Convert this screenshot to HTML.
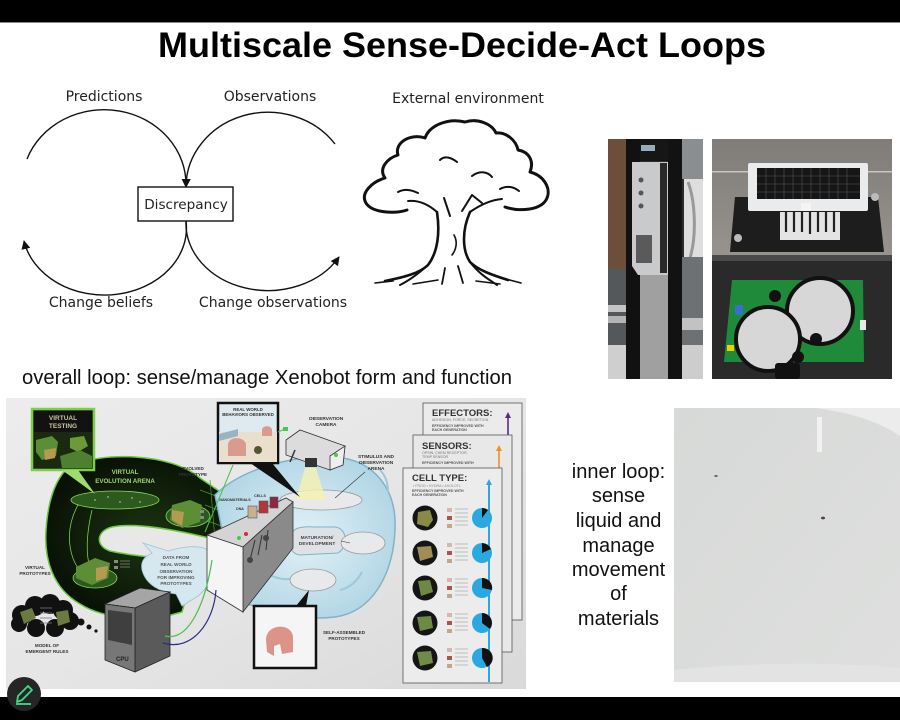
<!DOCTYPE html>
<html><head><meta charset="utf-8"><style>
html,body{margin:0;padding:0;background:#fff;}
body{width:900px;height:720px;overflow:hidden;}
svg{display:block;}
</style></head><body>
<svg width="900" height="720" viewBox="0 0 900 720" xmlns="http://www.w3.org/2000/svg">
<defs>
<marker id="ah" viewBox="0 0 10 10" refX="9" refY="5" markerWidth="9" markerHeight="9" markerUnits="userSpaceOnUse" orient="auto"><path d="M0,0 L10,5 L0,10 Z" fill="#111"/></marker>
<linearGradient id="ibg" x1="0" y1="0" x2="1" y2="1"><stop offset="0" stop-color="#ececec"/><stop offset="0.5" stop-color="#e6e6e6"/><stop offset="1" stop-color="#d9d9d9"/></linearGradient>
<radialGradient id="dark" cx="0.5" cy="0.5" r="0.6"><stop offset="0" stop-color="#1b3410"/><stop offset="1" stop-color="#060c04"/></radialGradient>
<radialGradient id="blue" cx="0.5" cy="0.5" r="0.6"><stop offset="0" stop-color="#e2f1f7"/><stop offset="1" stop-color="#acd3e3"/></radialGradient>
<linearGradient id="rtop" x1="0" y1="0" x2="0" y2="1"><stop offset="0" stop-color="#7f7c79"/><stop offset="1" stop-color="#b0aaa2"/></linearGradient>
<linearGradient id="liq" x1="0" y1="0" x2="1" y2="1"><stop offset="0" stop-color="#d7d9d8"/><stop offset="1" stop-color="#dedfde"/></linearGradient>
</defs>

<!-- bars -->
<rect x="0" y="0" width="900" height="22" fill="#000"/>
<rect x="0" y="22" width="900" height="1" fill="#888"/>
<rect x="0" y="697" width="900" height="23" fill="#000"/>

<!-- title -->
<text x="462" y="57" text-anchor="middle" font-family="Liberation Sans, Arial, sans-serif" font-weight="bold" font-size="35" textLength="608" lengthAdjust="spacingAndGlyphs" fill="#000">Multiscale Sense-Decide-Act Loops</text>

<!-- loop diagram -->
<g font-family="DejaVu Sans, Verdana, sans-serif" font-size="14" fill="#222">
<text x="104" y="101" text-anchor="middle">Predictions</text>
<text x="270" y="101" text-anchor="middle">Observations</text>
<text x="468" y="103" text-anchor="middle">External environment</text>
<text x="101" y="307" text-anchor="middle">Change beliefs</text>
<text x="273" y="307" text-anchor="middle">Change observations</text>
</g>
<g fill="none" stroke="#111" stroke-width="1.4">
<path d="M27,159 A82,75 0 0 1 186,187" marker-end="url(#ah)"/>
<path d="M335,144 A82,75 0 0 0 186,187" marker-end="url(#ah)"/>
<path d="M186,221 A82,67 0 0 1 24,241" marker-end="url(#ah)"/>
<path d="M186,221 A82,67 0 0 0 339,257" marker-end="url(#ah)"/>
</g>
<rect x="138" y="187" width="95" height="34" fill="#fff" stroke="#111" stroke-width="1.4"/>
<text x="186" y="209" text-anchor="middle" font-family="DejaVu Sans, Verdana, sans-serif" font-size="13.6" fill="#222">Discrepancy</text>

<!-- tree -->
<g fill="none" stroke="#111" stroke-width="3" stroke-linecap="round" stroke-linejoin="round">
<path d="M407,210 C395,214 372,213 366,203 C360,193 372,182 385,178 C378,168 388,158 398,155 C394,143 410,133 425,138 C430,124 450,118 465,122 C478,118 492,124 496,133 C506,132 516,140 518,150 C530,152 534,162 530,172 C545,176 552,190 546,200 C540,210 520,212 505,207"/>
<path d="M437,212 C440,232 438,252 428,265 C420,273 405,277 385,281" stroke-width="2.6"/>
<path d="M470,212 C462,230 462,250 470,262 C478,270 492,275 508,280" stroke-width="2.6"/>
<path d="M437,212 C428,204 418,200 408,201" stroke-width="2"/>
<path d="M470,212 C480,205 490,200 502,199" stroke-width="2"/>
<path d="M450,216 L444,198" stroke-width="2"/>
<path d="M462,211 L472,195 L482,203" stroke-width="2"/>
<path d="M440,160 C445,155 452,158 457,162" stroke-width="2"/>
<path d="M472,176 C480,170 488,172 492,177" stroke-width="2"/>
<path d="M398,192 C405,188 412,190 418,193" stroke-width="2"/>
<path d="M500,189 C507,185 514,187 519,191" stroke-width="2"/>
<path d="M428,265 C418,274 410,280 400,285" stroke-width="2"/>
<path d="M470,262 C480,275 490,280 497,285" stroke-width="2"/>
<path d="M445,268 L442,284" stroke-width="1.8"/>
<path d="M458,266 L463,283" stroke-width="1.8"/>
<path d="M454,235 C458,242 456,250 452,255" stroke-width="1.6"/>
<path d="M375,283 L393,281 M413,284 L438,280 M476,281 L500,284 M506,279 L521,283" stroke-width="1.6"/>
</g>

<!-- left photo -->
<g>
<rect x="608" y="139" width="95" height="240" fill="#2e2b28"/>
<rect x="608" y="139" width="18" height="130" fill="#6c4e3a"/>
<rect x="608" y="269" width="18" height="110" fill="#55585a"/>
<rect x="608" y="305" width="30" height="7" fill="#c4c4c4"/>
<rect x="608" y="316" width="30" height="7" fill="#b4b4b4"/>
<rect x="608" y="345" width="22" height="34" fill="#cfcfcf"/>
<rect x="626" y="139" width="14" height="240" fill="#111"/>
<rect x="640" y="139" width="50" height="22" fill="#161616"/>
<rect x="641" y="145" width="14" height="6" fill="#9ab"/>
<path d="M632,162 L682,162 L682,266 L674,275 L638,275 L632,266 Z" fill="#c8cacb"/>
<rect x="660" y="163" width="7" height="110" fill="#2a2a2a"/>
<rect x="636" y="235" width="16" height="28" fill="#5a5a5a"/>
<circle cx="641" cy="180" r="2.5" fill="#555"/><circle cx="641" cy="193" r="2.5" fill="#555"/><circle cx="641" cy="206" r="2.5" fill="#555"/>
<rect x="640" y="275" width="28" height="104" fill="#a0a0a0"/>
<rect x="668" y="139" width="14" height="240" fill="#121212"/>
<rect x="682" y="139" width="21" height="40" fill="#8a8e90"/>
<rect x="684" y="179" width="19" height="78" fill="#dedede"/>
<path d="M688,182 C695,200 697,235 690,258" stroke="#999" stroke-width="3" fill="none"/>
<rect x="682" y="257" width="21" height="122" fill="#6e7174"/>
<rect x="682" y="318" width="21" height="12" fill="#c2c2c2"/>
<rect x="682" y="345" width="21" height="34" fill="#cdcdcd"/>
</g>

<!-- right photo -->
<g>
<rect x="712" y="139" width="180" height="240" fill="url(#rtop)"/>
<rect x="712" y="171" width="180" height="1.5" fill="#c9c4bc"/>
<path d="M735,197 L878,197 L884,252 L730,252 Z" fill="#1d1d1d"/>
<rect x="780" y="212" width="60" height="28" fill="#e4e4e4"/>
<g stroke="#222" stroke-width="2.2">
<line x1="786" y1="212" x2="786" y2="232"/><line x1="794" y1="212" x2="794" y2="232"/><line x1="802" y1="212" x2="802" y2="232"/><line x1="810" y1="212" x2="810" y2="234"/><line x1="818" y1="212" x2="818" y2="232"/><line x1="826" y1="212" x2="826" y2="232"/><line x1="834" y1="212" x2="834" y2="232"/>
</g>
<rect x="748" y="163" width="120" height="48" rx="2" fill="#e9ebec"/>
<rect x="757" y="168" width="103" height="31" fill="#161616"/>
<g stroke="#555" stroke-width="0.6">
<line x1="757" y1="176" x2="860" y2="176"/><line x1="757" y1="184" x2="860" y2="184"/><line x1="757" y1="192" x2="860" y2="192"/>
<line x1="766" y1="168" x2="766" y2="199"/><line x1="775" y1="168" x2="775" y2="199"/><line x1="784" y1="168" x2="784" y2="199"/><line x1="793" y1="168" x2="793" y2="199"/><line x1="802" y1="168" x2="802" y2="199"/><line x1="811" y1="168" x2="811" y2="199"/><line x1="820" y1="168" x2="820" y2="199"/><line x1="829" y1="168" x2="829" y2="199"/><line x1="838" y1="168" x2="838" y2="199"/><line x1="847" y1="168" x2="847" y2="199"/>
</g>
<rect x="801" y="203" width="10" height="8" fill="#f4f4f4"/>
<circle cx="875" cy="197" r="4" fill="#bbb"/><circle cx="738" cy="238" r="4" fill="#bbb"/>
<rect x="712" y="255" width="180" height="124" fill="#2a2a2a"/>
<rect x="712" y="255" width="180" height="6" fill="#4a4a4a"/>
<path d="M732,280 L863,280 L864,362 L724,362 Z" fill="#1f8a3a"/>
<circle cx="820" cy="311" r="33" fill="#d6d7d6" stroke="#111" stroke-width="4"/>
<circle cx="768" cy="339" r="32" fill="#d6d7d6" stroke="#111" stroke-width="4"/>
<circle cx="775" cy="296" r="6" fill="#111"/><circle cx="816" cy="339" r="6" fill="#111"/><circle cx="798" cy="357" r="6" fill="#111"/>
<rect x="735" y="305" width="8" height="10" fill="#3a6fd0"/>
<rect x="860" y="320" width="6" height="10" fill="#e8e8e8"/>
<rect x="727" y="345" width="7" height="6" fill="#f0d000"/>
<rect x="775" y="363" width="25" height="16" rx="3" fill="#111"/>
</g>

<!-- overall loop text -->
<text x="22" y="384" font-family="Liberation Sans, Arial, sans-serif" font-size="20" textLength="490" lengthAdjust="spacingAndGlyphs" fill="#111">overall loop: sense/manage Xenobot form and function</text>

<!-- infographic -->
<g font-family="Liberation Sans, Arial, sans-serif" font-weight="bold">
<rect x="6" y="398" width="520" height="291" fill="url(#ibg)"/>

<!-- dark arena -->
<path d="M70,466 C100,452 170,452 200,478 L250,512 L246,548 L205,537 C175,530 135,522 112,527 C96,531 95,546 110,551 C140,558 172,556 195,568 L182,612 C150,622 105,620 80,604 C52,588 44,558 46,530 C48,500 55,478 70,466 Z" fill="url(#dark)" stroke="#6cc83c" stroke-width="1.5"/>
<g stroke="#4a9a2a" stroke-width="0.7">
<line x1="200" y1="490" x2="240" y2="505"/><line x1="205" y1="505" x2="245" y2="520"/><line x1="205" y1="520" x2="246" y2="535"/><line x1="210" y1="480" x2="215" y2="540"/><line x1="225" y1="490" x2="230" y2="544"/>
</g>
<path d="M78,505 C64,530 68,560 84,575" stroke="#7ad04a" stroke-width="0.8" fill="none"/>
<path d="M92,510 C86,535 86,555 90,568" stroke="#7ad04a" stroke-width="0.8" fill="none"/>
<text x="125" y="474" text-anchor="middle" font-size="6.2" fill="#9fd77a">VIRTUAL</text>
<text x="125" y="483" text-anchor="middle" font-size="6.2" fill="#9fd77a">EVOLUTION ARENA</text>
<ellipse cx="115" cy="500" rx="44" ry="9" fill="#2c5a1c" stroke="#8ad85a" stroke-width="0.8"/>
<g fill="#cde" ><circle cx="95" cy="500" r="0.7"/><circle cx="108" cy="497" r="0.7"/><circle cx="120" cy="502" r="0.7"/><circle cx="132" cy="498" r="0.7"/><circle cx="140" cy="502" r="0.7"/></g>
<ellipse cx="188" cy="516" rx="22" ry="11" fill="#2c5a1c" stroke="#8ad85a" stroke-width="0.8"/>
<path d="M172,505 L190,500 L202,505 L200,522 L182,528 L170,520 Z" fill="#5c8f35"/>
<path d="M172,510 L184,512 L182,526 L172,520 Z" fill="#b59a52"/>
<ellipse cx="95" cy="578" rx="22" ry="10" fill="#2c5a1c" stroke="#8ad85a" stroke-width="0.8"/>
<path d="M76,567 L95,558 L110,563 L108,578 L92,585 L76,578 Z" fill="#5c8f35"/>
<path d="M96,568 L108,566 L106,578 L96,581 Z" fill="#b59a52"/>
<g fill="#888"><rect x="114" y="560" width="4" height="3"/><rect x="114" y="566" width="4" height="3"/><rect x="200" y="510" width="4" height="3"/><rect x="200" y="516" width="4" height="3"/></g>
<g stroke="#aaa" stroke-width="0.6"><line x1="120" y1="561" x2="130" y2="561"/><line x1="120" y1="564" x2="130" y2="564"/><line x1="120" y1="567" x2="130" y2="567"/></g>

<!-- virtual testing box -->
<rect x="32" y="409" width="62" height="61" fill="#1a2a10" stroke="#7ccf4a" stroke-width="2.5"/>
<rect x="34" y="411" width="58" height="21" fill="#121212"/>
<text x="63" y="420" text-anchor="middle" font-size="6.5" fill="#c9c3a0">VIRTUAL</text>
<text x="63" y="428" text-anchor="middle" font-size="6.5" fill="#c9c3a0">TESTING</text>
<path d="M36,440 L52,436 L58,442 L56,456 L42,460 L36,452 Z" fill="#5c8f35"/>
<path d="M44,450 L56,448 L55,458 L45,460 Z" fill="#b59a52"/>
<path d="M70,438 L84,436 L88,446 L78,452 L70,448 Z" fill="#6a9a3a"/>
<path d="M60,456 L80,450 L92,456 L92,468 L62,468 Z" fill="#4f8030"/>
<path d="M62,470 L78,470 L95,494 Z" fill="#9fdc70"/>

<!-- data arrow -->
<path d="M143,543 L168,551 C185,546 200,545 208,550 C216,565 212,585 198,596 L182,606 L176,594 C160,592 146,585 142,570 C140,560 146,556 152,553 Z" fill="#d6e8ef" stroke="#9cc3d4" stroke-width="0.8"/>
<g font-size="4.6" fill="#555" text-anchor="middle">
<text x="176" y="559">DATA FROM</text><text x="176" y="566">REAL WORLD</text><text x="176" y="573">OBSERVATION</text><text x="176" y="579">FOR IMPROVING</text><text x="176" y="585">PROTOTYPES</text>
</g>

<!-- blue loop -->
<path d="M215,495 C240,470 290,455 335,457 C375,460 397,490 395,530 C393,575 372,612 335,617 C300,621 262,612 240,600 L228,560 Z" fill="url(#blue)" stroke="#7fb3c8" stroke-width="1.5"/>
<path d="M290,540 C290,528 300,526 315,527 L335,527 C347,528 349,546 338,553 L300,555 C292,554 290,548 290,540 Z" fill="#dfe2e4" stroke="#7fb3c8" stroke-width="1"/>
<text x="317" y="539" text-anchor="middle" font-size="4.8" fill="#444">MATURATION/</text>
<text x="317" y="545" text-anchor="middle" font-size="4.8" fill="#444">DEVELOPMENT</text>
<path d="M380,470 C386,476 388,484 388,492" stroke="#9cc8da" stroke-width="2" fill="none"/>
<path d="M340,590 C350,588 358,580 362,572" stroke="#9cc8da" stroke-width="2" fill="none"/>
<path d="M270,575 C280,580 288,580 295,578" stroke="#9cc8da" stroke-width="2" fill="none"/>
<ellipse cx="321" cy="500" rx="41" ry="10" fill="#e8e9ea" stroke="#999" stroke-width="0.8"/>
<ellipse cx="363" cy="543" rx="22" ry="11" fill="#e8e9ea" stroke="#999" stroke-width="0.8"/>
<ellipse cx="313" cy="580" rx="23" ry="11" fill="#e8e9ea" stroke="#999" stroke-width="0.8"/>
<ellipse cx="262" cy="560" rx="20" ry="10" fill="#e8e9ea" stroke="#999" stroke-width="0.8"/>
<path d="M305,468 L316,468 L326,500 L296,500 Z" fill="#f6f1b0" opacity="0.8"/>

<!-- camera -->
<path d="M286,440 L300,430 L345,446 L343,465 L330,470 L286,455 Z" fill="#dcdcdc" stroke="#333" stroke-width="0.8"/>
<path d="M330,456 L345,446 L343,465 L330,470 Z" fill="#eee" stroke="#333" stroke-width="0.8"/>
<circle cx="336" cy="455" r="2" fill="#4c4"/>
<rect x="305" y="458" width="12" height="9" fill="#333"/>
<path d="M295,450 L290,462" stroke="#333" stroke-width="1.5"/>
<text x="326" y="420" text-anchor="middle" font-size="4.8" fill="#333">OBSERVATION</text>
<text x="326" y="426" text-anchor="middle" font-size="4.8" fill="#333">CAMERA</text>
<text x="376" y="458" text-anchor="middle" font-size="4.8" fill="#333">STIMULUS AND</text>
<text x="376" y="464" text-anchor="middle" font-size="4.8" fill="#333">OBSERVATION</text>
<text x="376" y="470" text-anchor="middle" font-size="4.8" fill="#333">ARENA</text>
<path d="M365,472 L335,498" stroke="#333" stroke-width="0.6"/>
<path d="M350,543 L341,541" stroke="#333" stroke-width="0.6"/>

<!-- real world box -->
<path d="M250,463 L272,463 L300,497 Z" fill="#111"/>
<rect x="218" y="403" width="60" height="60" fill="#dfeaf0" stroke="#111" stroke-width="2.5"/>
<rect x="219" y="432" width="58" height="30" fill="#e9dfcc"/>
<text x="248" y="411" text-anchor="middle" font-size="4.4" fill="#333">REAL WORLD</text>
<text x="248" y="416" text-anchor="middle" font-size="4.4" fill="#333">BEHAVIORS OBSERVED</text>
<path d="M228,445 C228,436 244,436 246,444 L246,456 L228,456 Z" fill="#d99a8f"/>
<circle cx="258" cy="450" r="4" fill="#553"/>
<path d="M219,434 L238,429 L238,436 L219,441 Z" fill="#9ab3c4"/>
<path d="M262,430 C262,425 272,425 272,430 L272,436 L262,436 Z" fill="#d99a8f"/>
<path d="M278,432 L287,428" stroke="#4c4" stroke-width="1.2"/>
<rect x="283" y="427" width="5" height="4" fill="#4c4"/>
<path d="M233,465 L205,532" stroke="#4cc04a" stroke-width="1"/>

<!-- machine -->
<path d="M207,535 L286,498 L293,502 L243,547 Z" fill="#d4d4d4" stroke="#333" stroke-width="0.8"/>
<path d="M243,547 L293,502 L293,548 L243,612 Z" fill="#8a8a8a" stroke="#333" stroke-width="0.8"/>
<path d="M207,535 L243,547 L243,612 L207,590 Z" fill="#f5f5f5" stroke="#333" stroke-width="0.8"/>
<circle cx="239" cy="538" r="2" fill="#4c4"/><circle cx="246" cy="534" r="2" fill="#c33"/>
<g stroke="#333" stroke-width="1" fill="none"><path d="M255,540 L250,560 M262,535 L258,555 M268,530 L266,550"/></g>
<circle cx="250" cy="560" r="3" fill="#444"/><circle cx="266" cy="538" r="3" fill="#444"/>
<rect x="248" y="506" width="9" height="12" fill="#c8b090" stroke="#555" stroke-width="0.6"/>
<rect x="259" y="501" width="9" height="12" fill="#b3363a" stroke="#555" stroke-width="0.6"/>
<rect x="270" y="497" width="8" height="11" fill="#8a2a40" stroke="#555" stroke-width="0.6"/>
<text x="260" y="497" text-anchor="middle" font-size="3.6" fill="#333">CELLS</text>
<text x="235" y="501" text-anchor="middle" font-size="3.6" fill="#333">NANOMATERIALS</text>
<text x="240" y="510" text-anchor="middle" font-size="3.6" fill="#333">DNA</text>
<text x="193" y="470" text-anchor="middle" font-size="4.6" fill="#333">EVOLVED</text>
<text x="193" y="476" text-anchor="middle" font-size="4.6" fill="#333">PROTOTYPE</text>

<!-- self assembled -->
<path d="M296,606 L306,606 L309,590 Z" fill="#111"/>
<rect x="254" y="606" width="62" height="62" fill="#f5f5f5" stroke="#111" stroke-width="2.5"/>
<path d="M266,640 C266,624 290,622 293,636 L293,652 L282,654 L280,644 L274,646 L274,656 L267,652 Z" fill="#dc9488"/>
<text x="344" y="634" text-anchor="middle" font-size="4.6" fill="#333">SELF-ASSEMBLED</text>
<text x="344" y="640" text-anchor="middle" font-size="4.6" fill="#333">PROTOTYPES</text>

<!-- cloud -->
<g fill="#111">
<circle cx="22" cy="615" r="10"/><circle cx="35" cy="606" r="10"/><circle cx="50" cy="604" r="10"/><circle cx="63" cy="610" r="10"/><circle cx="70" cy="621" r="9"/><circle cx="55" cy="628" r="9"/><circle cx="36" cy="628" r="9"/><circle cx="19" cy="624" r="8"/>
<circle cx="81" cy="622" r="3.5"/><circle cx="89" cy="627" r="2.5"/><circle cx="96" cy="631" r="1.6"/>
</g>
<path d="M20,612 L32,608 L36,618 L24,624 Z" fill="#6a7a40"/>
<path d="M56,612 L68,610 L70,622 L58,626 Z" fill="#6a7a40"/>
<g stroke="#777" stroke-width="0.8"><line x1="40" y1="608" x2="52" y2="608"/><line x1="40" y1="613" x2="52" y2="613"/><line x1="40" y1="618" x2="52" y2="618"/><line x1="40" y1="623" x2="52" y2="623"/></g>
<text x="47" y="647" text-anchor="middle" font-size="4.6" fill="#333">MODEL OF</text>
<text x="47" y="653" text-anchor="middle" font-size="4.6" fill="#333">EMERGENT RULES</text>
<text x="35" y="569" text-anchor="middle" font-size="4.6" fill="#333">VIRTUAL</text>
<text x="35" y="575" text-anchor="middle" font-size="4.6" fill="#333">PROTOTYPES</text>

<!-- CPU -->
<path d="M105,604 L140,588 L170,592 L135,608 Z" fill="#a5a5a5" stroke="#222" stroke-width="0.8"/>
<path d="M135,608 L170,592 L170,656 L135,672 Z" fill="#5a5a5a" stroke="#222" stroke-width="0.8"/>
<path d="M105,604 L135,608 L135,672 L105,660 Z" fill="#777" stroke="#222" stroke-width="0.8"/>
<path d="M108,610 L132,613 L132,645 L108,640 Z" fill="#3f3f3f"/>
<text x="116" y="661" font-size="6" fill="#222">CPU</text>
<path d="M165,636 C190,642 206,600 212,560" stroke="#4cc04a" stroke-width="1.2" fill="none"/>
<path d="M163,643 C192,652 214,622 216,590" stroke="#2a2a8a" stroke-width="1.2" fill="none"/>

<!-- cards -->
<rect x="423" y="403" width="99" height="217" fill="#ebebeb" stroke="#555" stroke-width="0.8"/>
<text x="432" y="416" font-size="9.5" fill="#333">EFFECTORS:</text>
<text x="432" y="421" font-size="3.6" font-weight="normal" fill="#777">ADHESION, FORCE, SECRETION</text>
<text x="432" y="427" font-size="3.6" fill="#555">EFFICIENCY IMPROVED WITH</text>
<text x="432" y="431" font-size="3.6" fill="#555">EACH GENERATION</text>
<path d="M508,436 L508,415" stroke="#5b2a86" stroke-width="1.6"/><path d="M505,418 L508,412 L511,418 Z" fill="#5b2a86"/>
<rect x="413" y="435" width="99" height="217" fill="#e8e8e8" stroke="#555" stroke-width="0.8"/>
<text x="422" y="449" font-size="9.5" fill="#333">SENSORS:</text>
<text x="422" y="454" font-size="3.6" font-weight="normal" fill="#777">OPSIN, CHEM RECEPTOR,</text>
<text x="422" y="458" font-size="3.6" font-weight="normal" fill="#777">TEMP SENSOR</text>
<text x="422" y="464" font-size="3.6" fill="#555">EFFICIENCY IMPROVED WITH</text>
<path d="M499,468 L499,448" stroke="#f0901e" stroke-width="1.6"/><path d="M496,451 L499,445 L502,451 Z" fill="#f0901e"/>
<rect x="403" y="468" width="99" height="215" fill="#ececec" stroke="#555" stroke-width="0.8"/>
<text x="412" y="481" font-size="9.5" fill="#333">CELL TYPE:</text>
<text x="413" y="487" font-size="3.6" font-weight="normal" fill="#888">▪ FROG  ▪ HYDRA  ▪ AXOLOTL</text>
<text x="412" y="492" font-size="3.6" fill="#555">EFFICIENCY IMPROVED WITH</text>
<text x="412" y="496" font-size="3.6" fill="#555">EACH GENERATION</text>
<path d="M489,682 L489,482" stroke="#2aa6e0" stroke-width="2"/><path d="M486,485 L489,479 L492,485 Z" fill="#2aa6e0"/>
<g>
<circle cx="425" cy="518" r="12.5" fill="#151515"/><path d="M418,512 L430,510 L433,520 L428,527 L417,524 Z" fill="#8a8a48"/>
<circle cx="425" cy="553" r="12.5" fill="#151515"/><path d="M417,547 L431,546 L433,557 L420,561 Z" fill="#a08f55"/>
<circle cx="425" cy="588" r="12.5" fill="#151515"/><path d="M418,581 L430,580 L433,592 L421,596 Z" fill="#6d8a45"/>
<circle cx="425" cy="623" r="12.5" fill="#151515"/><path d="M417,617 L431,616 L433,628 L420,631 Z" fill="#6d8a45"/>
<circle cx="425" cy="658" r="12.5" fill="#151515"/><path d="M417,652 L431,651 L433,663 L420,666 Z" fill="#718a48"/>
</g>
<g fill="#d8b5b0"><rect x="447" y="508" width="5" height="4"/><rect x="447" y="543" width="5" height="4"/><rect x="447" y="578" width="5" height="4"/><rect x="447" y="613" width="5" height="4"/><rect x="447" y="648" width="5" height="4"/></g>
<g fill="#a8554e"><rect x="447" y="516" width="5" height="4"/><rect x="447" y="551" width="5" height="4"/><rect x="447" y="586" width="5" height="4"/><rect x="447" y="621" width="5" height="4"/><rect x="447" y="656" width="5" height="4"/></g>
<g fill="#c0a888"><rect x="447" y="524" width="5" height="4"/><rect x="447" y="559" width="5" height="4"/><rect x="447" y="594" width="5" height="4"/><rect x="447" y="629" width="5" height="4"/><rect x="447" y="664" width="5" height="4"/></g>
<g stroke="#aaa" stroke-width="0.7">
<path d="M455,509 H468 M455,513 H468 M455,517 H468 M455,521 H468 M455,525 H468"/>
<path d="M455,544 H468 M455,548 H468 M455,552 H468 M455,556 H468 M455,560 H468"/>
<path d="M455,579 H468 M455,583 H468 M455,587 H468 M455,591 H468 M455,595 H468"/>
<path d="M455,614 H468 M455,618 H468 M455,622 H468 M455,626 H468 M455,630 H468"/>
<path d="M455,649 H468 M455,653 H468 M455,657 H468 M455,661 H468 M455,665 H468"/>
</g>
<g>
<circle cx="482" cy="518" r="10" fill="#29a9e0"/><path d="M482,518 L482,508 A10,10 0 0 1 488,510 Z" fill="#111"/>
<circle cx="482" cy="553" r="10" fill="#29a9e0"/><path d="M482,553 L482,543 A10,10 0 0 1 491,549 Z" fill="#111"/>
<circle cx="482" cy="588" r="10" fill="#29a9e0"/><path d="M482,588 L482,578 A10,10 0 0 1 492,590 Z" fill="#111"/>
<circle cx="482" cy="623" r="10" fill="#29a9e0"/><path d="M482,623 L482,613 A10,10 0 0 1 490,629 Z" fill="#111"/>
<circle cx="482" cy="658" r="10" fill="#29a9e0"/><path d="M482,658 L482,648 A10,10 0 0 1 487,667 Z" fill="#111"/>
</g>
</g>

<!-- inner loop text -->
<g font-family="Liberation Sans, Arial, sans-serif" font-size="20" fill="#111" text-anchor="middle">
<text x="618.5" y="478">inner loop:</text>
<text x="618.5" y="502">sense</text>
<text x="618.5" y="527">liquid and</text>
<text x="618.5" y="552">manage</text>
<text x="618.5" y="576">movement</text>
<text x="618.5" y="600">of</text>
<text x="618.5" y="625">materials</text>
</g>

<!-- liquid photo -->
<rect x="674" y="408" width="226" height="274" fill="url(#liq)"/>
<path d="M815,408 C850,412 880,422 900,436 L900,408 Z" fill="#ececec"/>
<rect x="817" y="417" width="5" height="35" fill="#f2f2f2"/>
<path d="M674,670 C750,662 840,662 900,668 L900,682 L674,682 Z" fill="#e2e3e2"/>
<ellipse cx="716" cy="476" rx="1.8" ry="1" fill="#666"/>
<ellipse cx="823" cy="518" rx="2" ry="1.4" fill="#444"/>

<!-- pencil button -->
<circle cx="24" cy="694" r="17" fill="#262626"/>
<g fill="none" stroke="#3ddc84" stroke-width="1.8" stroke-linejoin="round">
<path d="M17,702 L18,696 L28,686 L32,690 L22,700 Z"/>
<path d="M16,704 L31,704"/>
</g>
</svg>
</body></html>
